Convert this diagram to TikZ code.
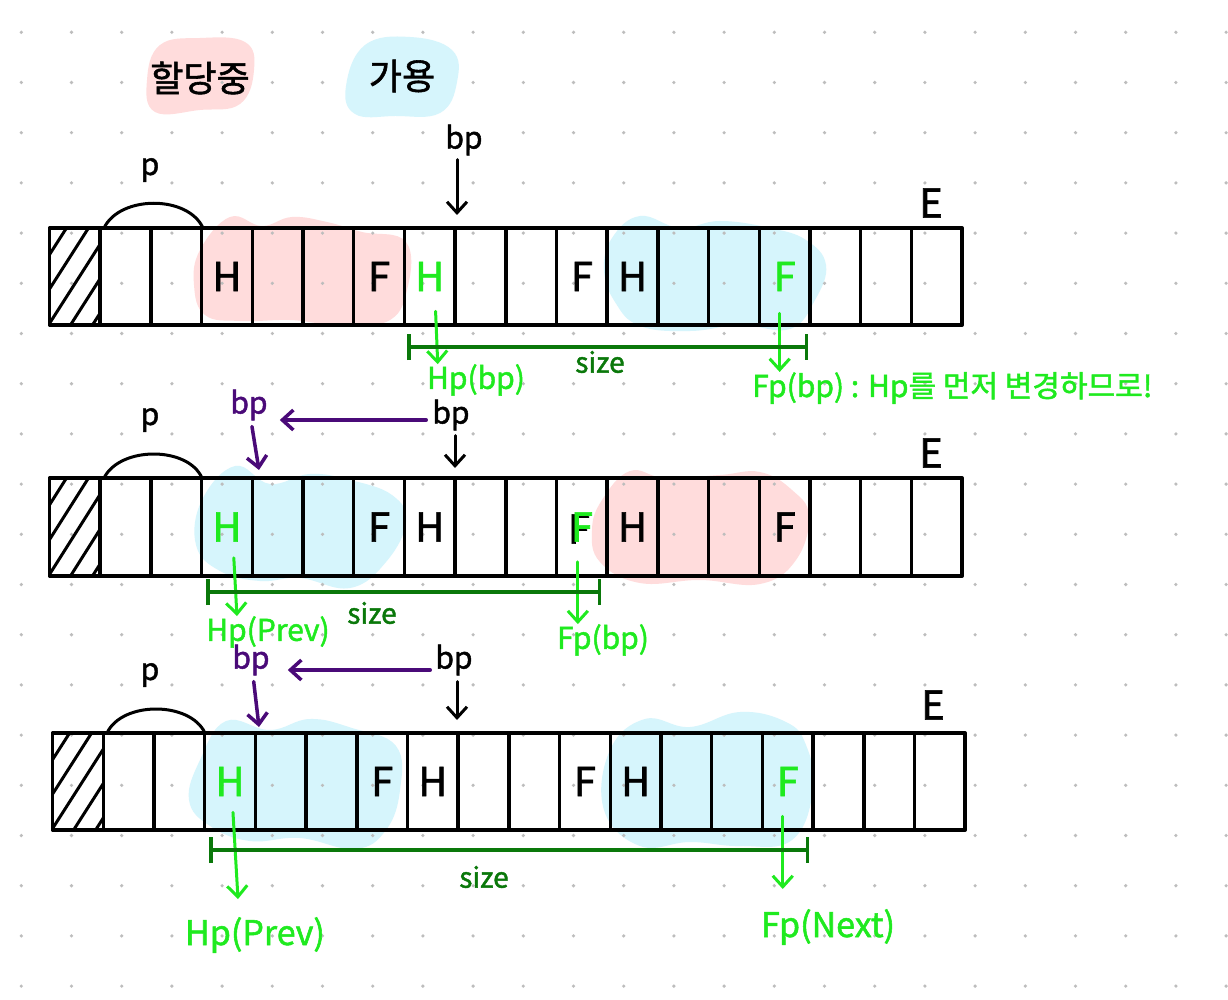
\documentclass[tikz,border=0pt]{standalone}
\usepackage{fontspec}
\setmainfont{Noto Sans CJK KR}[AutoFakeBold=1.6]
\usetikzlibrary{arrows.meta}
\definecolor{pinkf}{HTML}{FFDCDC}
\definecolor{bluef}{HTML}{D6F5FC}
\definecolor{gr}{HTML}{1FEA1F}
\definecolor{dgr}{HTML}{0A780A}
\definecolor{pur}{HTML}{4A0A78}
\definecolor{dotc}{HTML}{BDBDBD}
\newcommand\cw{50.7}
\newcommand\memrow[4]{%
  \begin{scope}
    \clip (#1,#2) rectangle ({#1+\cw},#3);
    \foreach \k in {0,...,5} \draw[line width=3pt] ({#1-45+\k*22},#3) -- ++(62,{#2-#3});
  \end{scope}
  \draw[boxline] (#1,#2) rectangle ({#1+18*\cw},#3);
  \foreach \i in {1,...,17} \draw[boxline] ({#1+\i*\cw},#2) -- ({#1+\i*\cw},#3);
  \foreach \i in {0,...,17} \coordinate (#4-\i) at ({#1+(\i+0.5)*\cw},{(#2+#3)/2});
}
\begin{document}
\begin{tikzpicture}[x=1pt,y=-1pt,
  boxline/.style={line width=3.5pt, line cap=round, line join=round},
  letter/.style={font=\fontsize{40}{40}\selectfont\bfseries, inner sep=0pt},
  gletter/.style={letter, text=gr},
  glabel/.style={text=gr, font=\fontsize{30}{30}\selectfont\bfseries, inner sep=0pt},
  biglabel/.style={text=gr, font=\fontsize{34}{34}\selectfont\bfseries, inner sep=0pt},
  slabel/.style={text=dgr, font=\fontsize{28}{28}\selectfont\bfseries, inner sep=0pt},
  blabel/.style={font=\fontsize{30}{30}\selectfont\bfseries, inner sep=0pt},
  plabel/.style={blabel, text=pur},
  elabel/.style={font=\fontsize{40}{40}\selectfont\bfseries, inner sep=0pt},
  legend/.style={font=\fontsize{36}{36}\selectfont\bfseries, inner sep=0pt},
  tip/.style={-{Straight Barb[length=11pt,width=20pt]}},
  garrow/.style={tip, draw=gr, line width=3pt, line cap=round},
  barrow/.style={tip, draw=black, line width=3pt, line cap=round},
  parrow/.style={tip, draw=pur, line width=3.5pt, line cap=round},
  sizeline/.style={draw=dgr, line width=3.5pt, {Bar[width=26pt,length=3.5pt]}-{Bar[width=26pt,length=3.5pt]}},
  arcline/.style={line width=3pt},
  pinkblob/.style={fill=pinkf, draw=none},
  blueblob/.style={fill=bluef, draw=none}]
\useasboundingbox (0,0) rectangle (1228,1000);
\fill[white] (0,0) rectangle (1228,1000);

% ---------- blobs ----------
\fill[pinkblob] plot[smooth cycle, tension=0.7] coordinates {(160,45) (200,38) (245,42) (254,70) (240,104) (200,110) (155,112) (147,80)};
\fill[blueblob] plot[smooth cycle, tension=0.7] coordinates {(365,45) (410,37) (452,50) (457,82) (440,113) (395,116) (355,114) (346,86)};
\fill[pinkblob] plot[smooth cycle, tension=0.7] coordinates {(200,250) (230,217) (262,226) (292,217) (327,222) (362,232) (406,242) (407,290) (386,322) (330,324) (290,320) (240,321) (205,315) (194,285)};
\fill[blueblob] plot[smooth cycle, tension=0.7] coordinates {(612,238) (640,216) (680,228) (720,221) (770,228) (806,240) (826,265) (815,300) (790,329) (740,325) (690,331) (640,326) (615,302) (604,270)};
\fill[blueblob] plot[smooth cycle, tension=0.7] coordinates {(202,500) (235,466) (270,484) (310,474) (350,480) (392,495) (406,522) (386,562) (350,588) (300,578) (260,581) (220,571) (196,545)};
\fill[pinkblob] plot[smooth cycle, tension=0.7] coordinates {(602,500) (630,471) (665,478) (720,475) (760,472) (792,490) (809,516) (796,560) (760,584) (700,580) (640,583) (600,562) (592,530)};
\fill[blueblob] plot[smooth cycle, tension=0.7] coordinates {(200,760) (226,721) (270,730) (310,719) (352,728) (396,746) (400,790) (386,830) (355,849) (300,838) (250,841) (210,826) (189,800)};
\fill[blueblob] plot[smooth cycle, tension=0.7] coordinates {(610,750) (645,719) (690,727) (740,712) (786,722) (806,745) (813,790) (792,840) (740,846) (690,842) (640,846) (604,810)};

% ---------- dot grid ----------
\foreach \i in {0,...,24} \foreach \j in {0,...,19} \fill[dotc] ({21.3+50.2*\i},{32.3+50.2*\j}) circle (1.8);

% ---------- legend ----------
\node[legend] (alloc) at (200,78) {할당중};
\node[legend] (free) at (402,76) {가용};

% ---------- memory rows ----------
\memrow{49.5}{228}{325}{r1}
\memrow{49.5}{478}{576}{r2}
\memrow{52.6}{733}{830}{r3}

% arcs and p labels
\draw[arcline] (104,228) .. controls (120,195) and (188,195) .. (203,228);
\draw[arcline] (104,478) .. controls (120,446) and (188,446) .. (202,478);
\draw[arcline] (107,733) .. controls (122,701) and (190,701) .. (205,733);
\node[blabel] (p1) at (150,170) {p};
\node[blabel] (p2) at (150,420) {p};
\node[blabel] (p3) at (150,675) {p};

% E labels
\node[elabel] (e1) at (931,203) {E};
\node[elabel] (e2) at (931,453) {E};
\node[elabel] (e3) at (933,705) {E};

% ---------- row 1 letters ----------
\node[letter] (r1h3) at (r1-3) {H};
\node[letter] (r1f6) at (r1-6) {F};
\node[gletter] (r1h7) at (r1-7) {H};
\node[letter] (r1f10) at (r1-10) {F};
\node[letter] (r1h11) at (r1-11) {H};
\node[gletter] (r1f14) at (r1-14) {F};

% ---------- row 2 letters ----------
\node[gletter] (r2h3) at (r2-3) {H};
\node[letter] (r2f6) at (r2-6) {F};
\node[letter] (r2h7) at (r2-7) {H};
\node[letter] (r2f10b) at ([shift={(-3,2)}]r2-10) {F};
\node[gletter] (r2f10) at (r2-10) {F};
\node[letter] (r2h11) at (r2-11) {H};
\node[letter] (r2f14) at (r2-14) {F};

% ---------- row 3 letters ----------
\node[gletter] (r3h3) at (r3-3) {H};
\node[letter] (r3f6) at (r3-6) {F};
\node[letter] (r3h7) at (r3-7) {H};
\node[letter] (r3f10) at (r3-10) {F};
\node[letter] (r3h11) at (r3-11) {H};
\node[gletter] (r3f14) at (r3-14) {F};

% ---------- row 1 annotations ----------
\node[blabel] (bp1) at (464,140) {bp};
\coordinate (bp1t) at (457,215);
\draw[barrow, shorten <=4pt] (bp1t |- bp1.south) -- (bp1t);

\node[glabel] (hpbp1) at (476,380) {Hp(bp)};
\node[glabel, anchor=west] (fpbp1) at (752,388) {Fp(bp) : Hp를 먼저 변경하므로!};
\draw[garrow, shorten <=20pt] ([xshift=5pt]r1h7.south) -- ([xshift=8pt]r1h7.south |- hpbp1.north);
\draw[garrow, shorten <=22pt] ([xshift=-5pt]r1f14.south) -- ([xshift=-5pt]r1f14.south |- fpbp1.north);

\coordinate (s1a) at (407,347);
\coordinate (s1b) at (808,347);
\draw[sizeline] (s1a) -- (s1b);
\node[slabel] (size1) at (600,362) {size};

% ---------- row 2 annotations ----------
\node[plabel] (bp2p) at (249,405) {bp};
\node[blabel] (bp2) at (451,415) {bp};
\draw[parrow, shorten <=6pt, shorten >=12pt] ([yshift=-5pt]bp2.west) -- ([yshift=-5pt]bp2.west -| bp2p.east);
\coordinate (bp2pt) at (259,470);
\draw[parrow, shorten <=6pt] ([xshift=2pt]bp2p.south) -- (bp2pt);
\coordinate (bp2t) at (455,468);
\draw[barrow, shorten <=5pt] (bp2t |- bp2.south) -- (bp2t);

\node[glabel] (hpprev2) at (268,632) {Hp(Prev)};
\node[glabel] (fpbp2) at (603,640) {Fp(bp)};
\draw[garrow, shorten <=16pt] ([xshift=6pt]r2h3.south) -- ([xshift=10pt]r2h3.south |- hpprev2.north);
\draw[garrow, shorten <=20pt] ([xshift=-4pt]r2f10.south) -- ([xshift=-4pt]r2f10.south |- fpbp2.north);

\coordinate (s2a) at (206,592);
\coordinate (s2b) at (601,592);
\draw[sizeline] (s2a) -- (s2b);
\node[slabel] (size2) at (372,613) {size};

% ---------- row 3 annotations ----------
\node[plabel] (bp3p) at (251,660) {bp};
\node[blabel] (bp3) at (454,660) {bp};
\draw[parrow, shorten <=5pt, shorten >=18pt] ([yshift=-10pt]bp3.west) -- ([yshift=-10pt]bp3.west -| bp3p.east);
\coordinate (bp3pt) at (259,727);
\draw[parrow, shorten <=6pt] ([xshift=2pt]bp3p.south) -- (bp3pt);
\coordinate (bp3t) at (457,720);
\draw[barrow, shorten <=6pt] (bp3t |- bp3.south) -- (bp3t);

\node[biglabel] (hpprev3) at (255,935) {Hp(Prev)};
\node[biglabel] (fpnext3) at (828,927) {Fp(Next)};
\draw[garrow, shorten <=16pt, shorten >=18pt] ([xshift=2pt]r3h3.south) -- ([xshift=9pt]r3h3.south |- hpprev3.north);
\draw[garrow, shorten <=20pt, shorten >=20pt] ([xshift=-5pt]r3f14.south) -- ([xshift=-5pt]r3f14.south |- fpnext3.north);

\coordinate (s3a) at (209,850);
\coordinate (s3b) at (809,850);
\draw[sizeline] (s3a) -- (s3b);
\node[slabel] (size3) at (484,877) {size};
\end{tikzpicture}
\end{document}
